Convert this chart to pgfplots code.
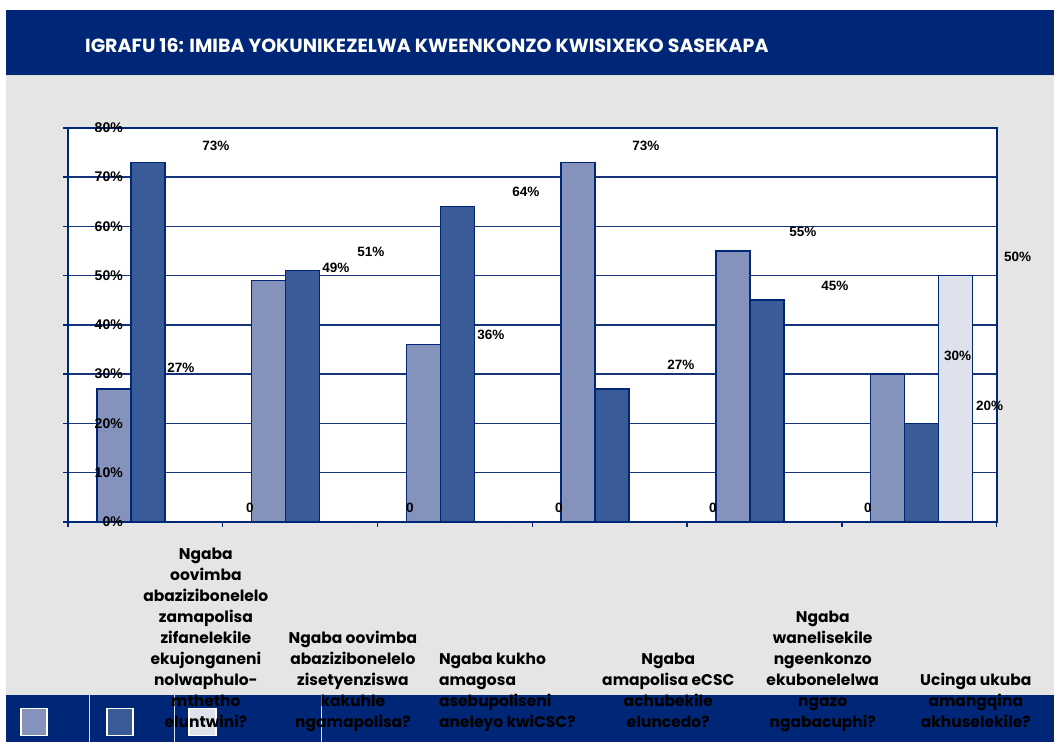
\documentclass[border=0pt]{standalone}
\usepackage{fontspec}
\setmainfont{Liberation Sans}
\newfontfamily\gothic{Poppins}
\usepackage{pgfplots}
\pgfplotsset{compat=1.18}
\definecolor{navy}{RGB}{0,38,119}
\definecolor{gridc}{RGB}{22,52,122}
\definecolor{sA}{RGB}{133,147,188}
\definecolor{sB}{RGB}{57,91,152}
\definecolor{sC}{RGB}{223,226,237}
\definecolor{bg}{RGB}{229,229,229}
\newcommand{\cat}[1]{\begin{tabular}[b]{@{}c@{}}#1\end{tabular}}
\newcommand{\catl}[1]{\begin{tabular}[b]{@{}l@{}}#1\end{tabular}}
\pgfplotsset{
  base/.style={
    at={(68pt,220pt)}, anchor=south west,
    width=929pt, height=394pt, scale only axis,
    xmin=-0.5, xmax=5.5, ymin=0, ymax=80,
    clip=false,
    /pgf/number format/assume math mode=true,
  }
}
\begin{document}
\begin{tikzpicture}[x=1pt,y=1pt]
\fill[white] (0,0) rectangle (1054,742);
\fill[bg] (6,0) rectangle (1054,666);
\fill[navy] (6,666) rectangle (1054,732);
\draw[white!70!gray, line width=1pt] (6,666) -- (1054,666);
\node[anchor=base west, inner sep=0pt, text=white, font=\gothic\bfseries\fontsize{19}{22}\selectfont] at (85,689) {IGRAFU 16: IMIBA YOKUNIKEZELWA KWEENKONZO KWISIXEKO SASEKAPA};
\fill[navy] (6,0) rectangle (1054,47);
\draw[white!85!navy, line width=1pt] (90,0) -- (90,47) (175,0) -- (175,47) (322,0) -- (322,47);
\draw[white, line width=1.5pt, fill=sA] (21,6) rectangle (47,33);
\draw[white, line width=1.5pt, fill=sB] (107,6) rectangle (133,33);
\draw[white, line width=1.5pt, fill=sC] (189,6) rectangle (216,33);
\begin{axis}[
  base,
  axis background/.style={fill=white},
  axis line style={navy, line width=2pt},
  ymajorgrids, grid style={gridc, line width=1.5pt},
  ytick={0,10,...,80}, yticklabels={},
  xtick={-0.5,0.5,...,5.5}, xticklabels={},
  tick pos=left,
  tick align=outside, major tick length=5pt,
  tick style={navy, line width=1.5pt},
  extra x ticks={0.391,1.341,2.339,3.379,4.377,5.366},
  extra x tick labels={
    {\cat{Ngaba\\oovimba\\abazizibonelelo\\zamapolisa\\zifanelekile\\ekujonganeni\\nolwaphulo-\\mthetho\\eluntwini?}},
    {\cat{Ngaba oovimba\\abazizibonelelo\\zisetyenziswa\\kakuhle\\ngamapolisa?}},
    {\catl{Ngaba kukho\\amagosa\\asebupoliseni\\aneleyo kwiCSC?}},
    {\cat{Ngaba\\amapolisa eCSC\\achubekile\\eluncedo?}},
    {\cat{Ngaba\\wanelisekile\\ngeenkonzo\\ekubonelelwa\\ngazo\\ngabacuphi?}},
    {\cat{Ucinga ukuba\\amangqina\\akhuselekile?}}},
  extra x tick style={major tick length=0pt,
    xticklabel style={anchor=base, inner sep=0pt, yshift=-206pt, text=black,
      font=\gothic\bfseries\fontsize{15.5}{21}\selectfont}},
]
\addplot[ybar, bar width=34pt, bar shift=-31.5pt, fill=sA, draw=navy, line width=1.5pt]
  coordinates {(0,27) (1,49) (2,36) (3,73) (4,55) (5,30)};
\addplot[ybar, bar width=34pt, bar shift=2.5pt, fill=sB, draw=navy, line width=1.5pt]
  coordinates {(0,73) (1,51) (2,64) (3,27) (4,45) (5,20)};
\addplot[ybar, bar width=34pt, bar shift=36.5pt, fill=sC, draw=navy, line width=1.5pt]
  coordinates {(0,0) (1,0) (2,0) (3,0) (4,0) (5,50)};
% value labels (as displaced in the original)
\addplot[draw=none, mark=none, point meta=explicit,
  nodes near coords={\pgfmathprintnumber{\pgfplotspointmeta}\%},
  every node near coord/.style={anchor=center, inner sep=0pt, text=black, font=\fontsize{13.5}{15}\selectfont\bfseries}]
  table[meta=v] {
x y v
0.456 76.3 73
0.230 31.3 27
1.231 51.6 49
1.457 54.8 51
2.233 38.0 36
2.459 67.0 64
3.234 76.3 73
3.460 31.9 27
4.248 58.9 55
4.455 47.9 45
5.249 33.7 30
5.456 23.6 20
5.637 53.8 50
};
\addplot[draw=none, mark=none, point meta=explicit,
  nodes near coords={\pgfmathprintnumber{\pgfplotspointmeta}},
  every node near coord/.style={anchor=center, inner sep=0pt, text=black, font=\fontsize{13.5}{15}\selectfont\bfseries}]
  table[meta=v] {
x y v
0.676 2.84 0
1.709 2.84 0
2.672 2.84 0
3.667 2.84 0
4.668 2.84 0
};
\end{axis}
% second, transparent axis: only the y tick labels, drawn over the bars
\begin{axis}[
  base,
  axis line style={draw=none},
  xtick=\empty,
  ytick={0,10,...,80},
  major tick length=0pt, tick style={draw=none},
  yticklabel={\pgfmathprintnumber{\tick}\%},
  yticklabel style={anchor=east, inner sep=0pt, xshift=55pt, text=black,
    font=\fontsize{14}{16}\selectfont\bfseries},
]
\end{axis}
\end{tikzpicture}
\end{document}
